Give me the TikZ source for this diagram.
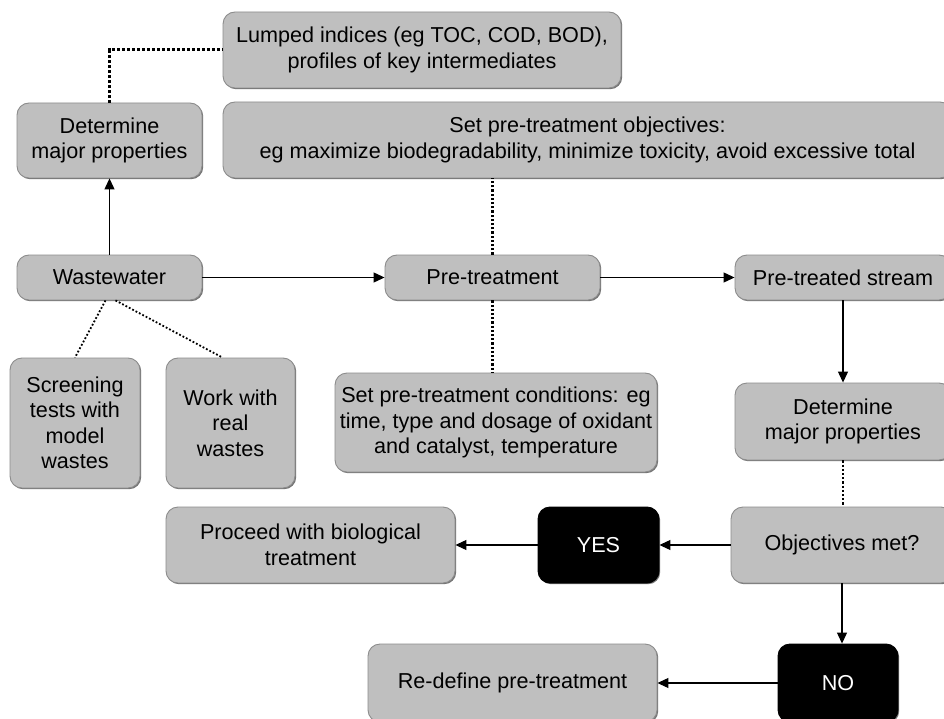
\documentclass[tikz,border=0pt]{standalone}
\usepackage{fontspec}
\setmainfont{Liberation Sans}
\usetikzlibrary{arrows.meta}
\usetikzlibrary{shadows}

\begin{document}
\begin{tikzpicture}[->,>={Triangle[length=11pt,width=10pt]},x=1pt,y=-1pt,line width=1.2pt,
    font=\fontsize{21.6}{25.5}\selectfont]
\tikzstyle{box}=[rectangle,rounded corners=12pt,fill=gray!50,draw=black!45,line width=0.9pt,
    drop shadow={shadow xshift=1.2pt,shadow yshift=-1.2pt,fill=black!55,opacity=1},
    align=center,inner sep=2pt]
\tikzstyle{dark}=[box,fill=black,draw=black,text=white]
\tikzstyle{dots}=[-,dotted,line width=2.2pt]
\useasboundingbox (0,0) rectangle (944,719);
\node[box, minimum width=398pt, minimum height=76pt] 	(lumped)  	at (422,50)		{Lumped indices (eg TOC, COD, BOD),\\profiles of key intermediates};
\node[box, minimum width=185pt, minimum height=75pt] 	(detL)  	at (109.5,140.5)	{Determine\\major properties};
\node[box, minimum width=729pt, minimum height=76pt] 	(objset)  	at (587.5,140)		{Set pre-treatment objectives:\\eg maximize biodegradability, minimize toxicity, avoid excessive total};
\node[box, minimum width=185pt, minimum height=45pt] 	(waste)  	at (109.5,277.5)	{Wastewater};
\node[box, minimum width=215pt, minimum height=45pt] 	(pretreat)  	at (492.5,277.5)	{Pre-treatment};
\node[box, minimum width=216pt, minimum height=45pt] 	(prestream)  	at (843,277.5)		{Pre-treated stream};
\node[box, minimum width=130pt, minimum height=130pt] 	(screen)  	at (75,423)		{Screening\\tests with\\model\\wastes};
\node[box, minimum width=129pt, minimum height=130pt] 	(work)  	at (230.5,423)		{Work with\\real\\wastes};
\node[box, minimum width=322pt, minimum height=99pt] 	(setcond)  	at (496,422.5)		{Set pre-treatment conditions: eg\\time, type and dosage of oxidant\\and catalyst, temperature};
\node[box, minimum width=216pt, minimum height=77pt] 	(detR)  	at (843,421.5)		{Determine\\major properties};
\node[box, minimum width=222pt, minimum height=76pt] 	(objmet)  	at (842,545)		{Objectives met?};
\node[dark, minimum width=121pt, minimum height=76pt] 	(yes)  		at (598.5,545)		{YES};
\node[box, minimum width=289pt, minimum height=76pt] 	(proceed)  	at (310.5,545)		{Proceed with biological\\treatment};
\node[dark, minimum width=120pt, minimum height=78pt] 	(no)  		at (838,683)		{NO};
\node[box, minimum width=289pt, minimum height=78pt] 	(redef)  	at (512.5,683)		{Re-define pre-treatment};
\path(waste)		edge	(detL)
	 (waste)		edge	(pretreat)
	 (pretreat)		edge	(prestream)
	 (prestream)	edge	(detR)
	 (objmet)		edge	(yes)
	 (yes)			edge	(proceed)
	 (no)			edge	(redef);
\draw (objmet.south) -- (objmet.south |- no.north);
\draw[dots, line width=3pt] (detL.north) |- (lumped.west);
\draw[dots] (pretreat.north) -- (pretreat.north |- objset.south);
\draw[dots] (pretreat.south) -- (pretreat.south |- setcond.north);
\draw[dots] (detR.south) -- (detR.south |- objmet.north);
\draw[dots, line width=1.8pt] ([xshift=-4pt]waste.south) -- (screen.north);
\draw[dots, line width=1.8pt] ([xshift=6pt]waste.south) -- ([xshift=-8pt]work.north);
\end{tikzpicture}
\end{document}
